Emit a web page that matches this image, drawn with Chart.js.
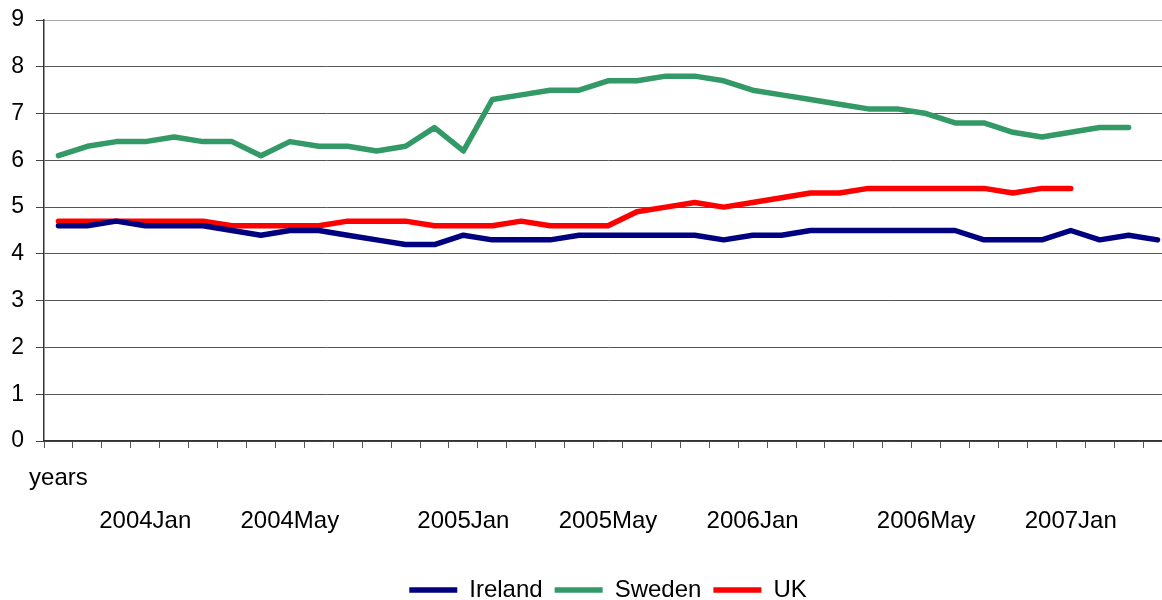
<!DOCTYPE html>
<html>
<head>
<meta charset="utf-8">
<script src="https://cdn.jsdelivr.net/npm/chart.js@4.4.0/dist/chart.umd.min.js"></script>
<style>
  html, body { margin: 0; padding: 0; background: #fff; overflow: hidden; }
  #wrap { width: 1162px; height: 600px; overflow: hidden; }
</style>
</head>
<body>
<div id="wrap"><canvas id="chart" width="1172" height="612"></canvas></div>
<script>
// periods on the x axis, only some of them carry a label
const categories = [
  '', '', '', '2004Jan', '', '', '', '', '2004May', '',
  '', '', '', '', '2005Jan', '', '', '', '', '2005May',
  '', '', '', '', '2006Jan', '', '', '', '', '',
  '2006May', '', '', '', '', '2007Jan', '', '', ''
]
const axisName = 'years'

const ireland = [
  4.6, 4.6, 4.7, 4.6, 4.6, 4.6, 4.5, 4.4, 4.5, 4.5,
  4.4, 4.3, 4.2, 4.2, 4.4, 4.3, 4.3, 4.3, 4.4, 4.4,
  4.4, 4.4, 4.4, 4.3, 4.4, 4.4, 4.5, 4.5, 4.5, 4.5,
  4.5, 4.5, 4.3, 4.3, 4.3, 4.5, 4.3, 4.4, 4.3
]
const sweden = [
  6.1, 6.3, 6.4, 6.4, 6.5, 6.4, 6.4, 6.1, 6.4, 6.3,
  6.3, 6.2, 6.3, 6.7, 6.2, 7.3, 7.4, 7.5, 7.5, 7.7,
  7.7, 7.8, 7.8, 7.7, 7.5, 7.4, 7.3, 7.2, 7.1, 7.1,
  7.0, 6.8, 6.8, 6.6, 6.5, 6.6, 6.7, 6.7
]
const uk = [
  4.7, 4.7, 4.7, 4.7, 4.7, 4.7, 4.6, 4.6, 4.6, 4.6,
  4.7, 4.7, 4.7, 4.6, 4.6, 4.6, 4.7, 4.6, 4.6, 4.6,
  4.9, 5.0, 5.1, 5.0, 5.1, 5.2, 5.3, 5.3, 5.4, 5.4,
  5.4, 5.4, 5.4, 5.3, 5.4, 5.4
]
const yTicks = [0, 1, 2, 3, 4, 5, 6, 7, 8, 9]

const font = 'Liberation Sans, Arial, sans-serif'

const line = (label, data, color) => {
  return {
    label: label,
    data: data,
    borderColor: color,
    backgroundColor: color,
    borderWidth: 5.5,
    borderCapStyle: 'round',
    borderJoinStyle: 'round',
    pointRadius: 0,
    pointHoverRadius: 0,
    tension: 0
  }
}

let ctx = document.getElementById('chart').getContext('2d')

new Chart(ctx, {
  type: 'line',
  data: {
    labels: categories,
    datasets: [
      line('Ireland', ireland, '#000080'),
      line('Sweden', sweden, '#339966'),
      line('UK', uk, '#ff0000')
    ]
  },
  options: {
    responsive: false,
    animation: false,
    devicePixelRatio: 1,
    layout: { padding: { top: 20, left: 0, right: 0, bottom: 0 } },
    scales: {
      x: {
        type: 'category',
        offset: true,
        grid: {
          offset: true,
          drawOnChartArea: false,
          drawTicks: true,
          tickLength: 7,
          color: '#555'
        },
        border: { color: '#333', width: 1.5 },
        ticks: {
          autoSkip: false,
          maxRotation: 0,
          minRotation: 0,
          padding: 9,
          color: '#000',
          font: { family: font, size: 24, lineHeight: 1.8 },
          callback: function(value, index) {
            const label = this.getLabelForValue(value)
            return index === 0 ? [axisName, label] : ['', label]
          }
        },
        afterFit: (scale) => {
          scale.height = 125
          scale.paddingTop = 0
          scale.paddingBottom = 0
        }
      },
      y: {
        min: 0,
        max: 9,
        grid: {
          color: (c) => (c.tick && c.tick.value === 9) ? '#a8a8a8' : '#555',
          tickColor: '#444',
          tickLength: 8
        },
        border: { color: '#333', width: 1.5 },
        afterBuildTicks: (scale) => {
          scale.ticks = yTicks.map(v => ({ value: v }))
        },
        ticks: {
          padding: 12,
          color: '#000',
          font: { family: font, size: 23 }
        },
        afterFit: (scale) => {
          scale.width = 44
          scale.paddingTop = 0
          scale.paddingBottom = 0
        }
      }
    },
    plugins: {
      legend: {
        position: 'bottom',
        fullSize: false,
        labels: {
          usePointStyle: true,
          pointStyle: 'line',
          pointStyleWidth: 48,
          padding: 12,
          color: '#000',
          font: { family: font, size: 24 }
        }
      },
      tooltip: { enabled: false }
    }
  }
})
</script>
</body>
</html>
